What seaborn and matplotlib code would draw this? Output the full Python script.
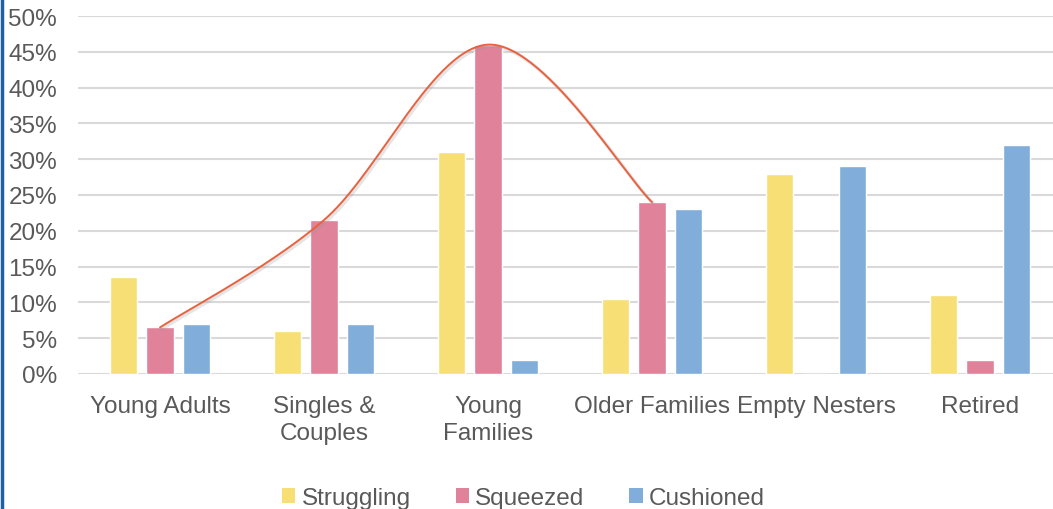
import numpy as np
import pandas as pd
import matplotlib
matplotlib.use("Agg")
import matplotlib.pyplot as plt
import matplotlib.patheffects as pe
from matplotlib.patches import Patch
from matplotlib.lines import Line2D
import seaborn as sns

# Household life-stage groups and the share of each financial segment (%)
categories = ["Young Adults", "Singles &\nCouples", "Young\nFamilies",
              "Older Families", "Empty Nesters", "Retired"]
struggling = [13.5, 6.0, 31.0, 10.5, 28.0, 11.0]
squeezed = [6.5, 21.5, 46.0, 24.0, 0.0, 2.0]
cushioned = [7.0, 7.0, 2.0, 23.0, 29.0, 32.0]
segments = ["Struggling", "Squeezed", "Cushioned"]
colors = ["#F7DF76", "#E0829A", "#80ADDA"]
yticks = [0, 5, 10, 15, 20, 25, 30, 35, 40, 45, 50]

# Trend curve drawn through the Squeezed share of the first four groups
trend_n = 4

df = pd.DataFrame({
    "group": categories * 3,
    "segment": np.repeat(segments, len(categories)),
    "share": struggling + squeezed + cushioned,
})

sns.set_theme(style="white")
plt.rcParams["font.family"] = ["Liberation Sans", "DejaVu Sans"]
text_color = "#595959"
grid_color = "#D9D9D9"
fs = 17.5

fig = plt.figure(figsize=(10.53, 5.10), dpi=100)
ax = fig.add_axes([78 / 1053, 135 / 510, 984 / 1053, 358 / 510])

sns.barplot(data=df, x="group", y="share", hue="segment", order=categories,
            hue_order=segments, palette=colors, width=0.667, gap=0.235,
            saturation=1, legend=False, ax=ax, zorder=3)

ax.set_ylim(0, 50)
ax.set_xlim(-0.5, len(categories) - 0.5)
ax.set_yticks(yticks)
ax.set_yticklabels([f"{v}%" for v in yticks])
ax.grid(axis="y", color=grid_color, linewidth=1.5, zorder=0)
ax.set_axisbelow(True)
for s in ax.spines.values():
    s.set_visible(False)
ax.tick_params(axis="both", length=0, labelsize=fs, labelcolor=text_color)
ax.tick_params(axis="y", pad=15)
ax.tick_params(axis="x", pad=15)
for lbl in ax.get_xticklabels():
    lbl.set_linespacing(1.3)
ax.set_xlabel("")
ax.set_ylabel("")

# Smoothed (Catmull-Rom) curve through the Squeezed values
px = np.arange(trend_n, dtype=float)
py = np.array(squeezed[:trend_n], dtype=float)
ext_x = np.concatenate([[px[0]], px, [px[-1]]])
ext_y = np.concatenate([[py[0]], py, [py[-1]]])
cx, cy = [], []
t = np.linspace(0, 1, 60)
for i in range(1, len(ext_x) - 2):
    p0, p1, p2, p3 = ext_x[i - 1], ext_x[i], ext_x[i + 1], ext_x[i + 2]
    q0, q1, q2, q3 = ext_y[i - 1], ext_y[i], ext_y[i + 1], ext_y[i + 2]
    b1x, b2x = p1 + (p2 - p0) / 6, p2 - (p3 - p1) / 6
    b1y, b2y = q1 + (q2 - q0) / 6, q2 - (q3 - q1) / 6
    bx = (1 - t) ** 3 * p1 + 3 * (1 - t) ** 2 * t * b1x + 3 * (1 - t) * t ** 2 * b2x + t ** 3 * p2
    by = (1 - t) ** 3 * q1 + 3 * (1 - t) ** 2 * t * b1y + 3 * (1 - t) * t ** 2 * b2y + t ** 3 * q2
    cx.extend(bx)
    cy.extend(by)
ax.plot(cx, cy, color="#E8623F", linewidth=1.4, zorder=5,
        path_effects=[pe.SimpleLineShadow(offset=(1.2, -1.2), shadow_color="#999999",
                                          alpha=0.25, linewidth=2.5), pe.Normal()])

# Legend with square swatches along the bottom
handles = [Patch(facecolor=c, edgecolor="none", label=s) for s, c in zip(segments, colors)]
fig.legend(handles=handles, loc="center", bbox_to_anchor=(0.497, 0.022), ncol=3,
           frameon=False, fontsize=fs, labelcolor=text_color, handlelength=0.55,
           handleheight=0.55, handletextpad=0.25, columnspacing=1.85, borderpad=0)

# Thin blue frame edge on the left
fig.add_artist(Line2D([0.0015, 0.0015], [0, 1], transform=fig.transFigure,
                      color="#1F5FA8", linewidth=2.5))

fig.savefig("out.png", dpi=100)
